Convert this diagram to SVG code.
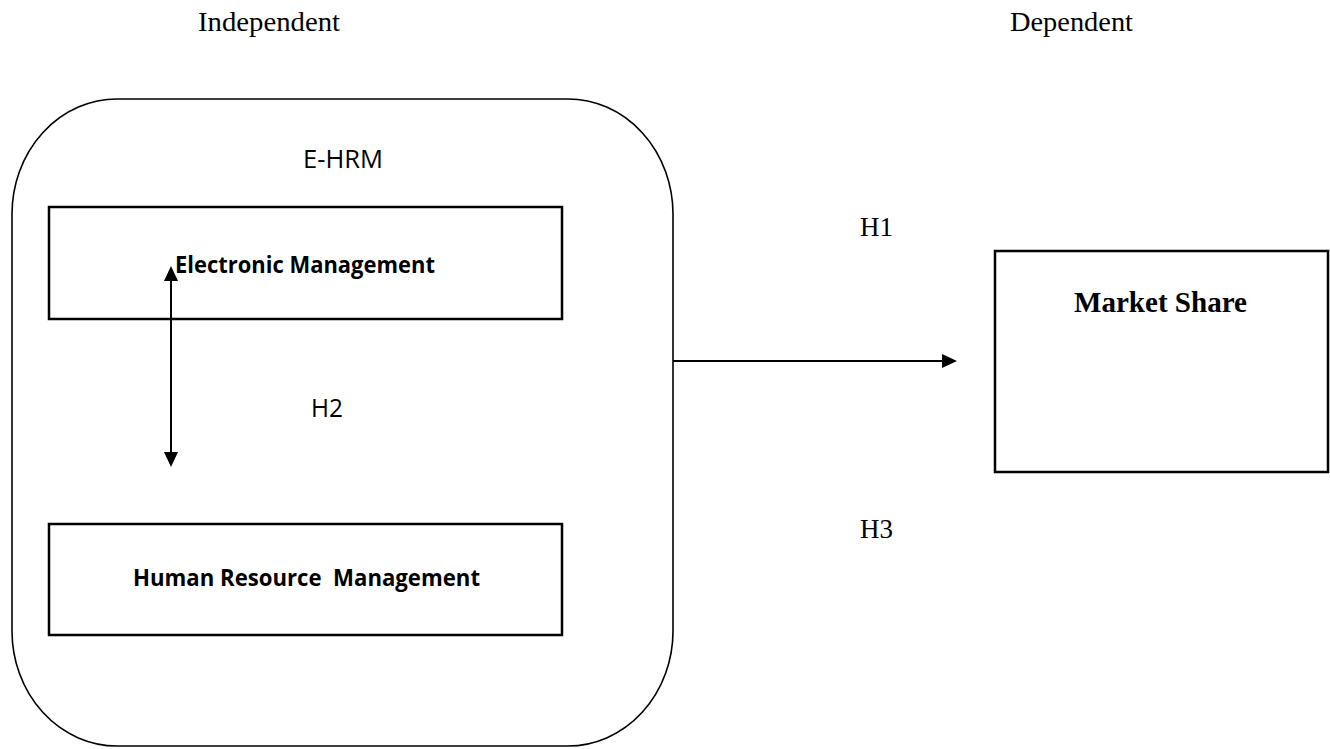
<svg xmlns="http://www.w3.org/2000/svg" width="1330" height="749" viewBox="0 0 1330 749">
<style>
.box{fill:none;stroke:#000;stroke-width:2.5}
.outer{fill:none;stroke:#000;stroke-width:1.6}
.conn{fill:none;stroke:#000;stroke-width:2}
.serif{font-family:"Liberation Serif","Times New Roman",serif;font-size:28px;fill:#000}
.serifb{font-family:"Liberation Serif","Times New Roman",serif;font-size:29px;font-weight:bold;fill:#000}
.sans{font-family:"Open Sans","Noto Sans",sans-serif;font-size:25px;fill:#000}
.sansb{font-family:"Open Sans","Noto Sans",sans-serif;font-size:23px;font-weight:bold;fill:#000}
</style>
<defs>
<marker id="ah" markerUnits="userSpaceOnUse" markerWidth="15" markerHeight="14" refX="0" refY="7" orient="auto-start-reverse" viewBox="0 0 15 14">
<path d="M0,0 L15,7 L0,14 z" fill="#000"/>
</marker>
</defs>
<rect width="1330" height="749" fill="#fff"/>
<g id="labels">
<text class="serif" x="198" y="31" textLength="142" lengthAdjust="spacingAndGlyphs">Independent</text>
<text class="serif" x="1010" y="31" textLength="123" lengthAdjust="spacingAndGlyphs">Dependent</text>
<text class="serif" x="860" y="236" textLength="33" lengthAdjust="spacingAndGlyphs">H1</text>
<text class="serif" x="860" y="538" textLength="33" lengthAdjust="spacingAndGlyphs">H3</text>
<text class="sans" x="311" y="417" textLength="32" lengthAdjust="spacingAndGlyphs">H2</text>
</g>
<g id="ehrm">
<rect class="outer" x="12" y="99" width="661" height="647" rx="105" ry="115"/>
<text class="sans" x="303" y="168" textLength="80" lengthAdjust="spacingAndGlyphs">E-HRM</text>
</g>
<g id="electronic-management">
<rect class="box" x="49" y="207" width="513" height="112"/>
<text class="sansb" x="175" y="273" textLength="260" lengthAdjust="spacingAndGlyphs">Electronic Management</text>
</g>
<g id="human-resource-management">
<rect class="box" x="49" y="524" width="513" height="111"/>
<text class="sansb" x="133" y="586" textLength="347" lengthAdjust="spacingAndGlyphs" xml:space="preserve">Human Resource  Management</text>
</g>
<g id="market-share">
<rect class="box" x="995" y="251" width="333" height="221"/>
<text class="serifb" x="1074" y="312" textLength="173" lengthAdjust="spacingAndGlyphs">Market Share</text>
</g>
<g id="connectors">
<line class="conn" x1="171" y1="281" x2="171" y2="452" marker-start="url(#ah)" marker-end="url(#ah)"/>
<line class="conn" x1="673" y1="361" x2="942" y2="361" marker-end="url(#ah)"/>
</g>
</svg>
